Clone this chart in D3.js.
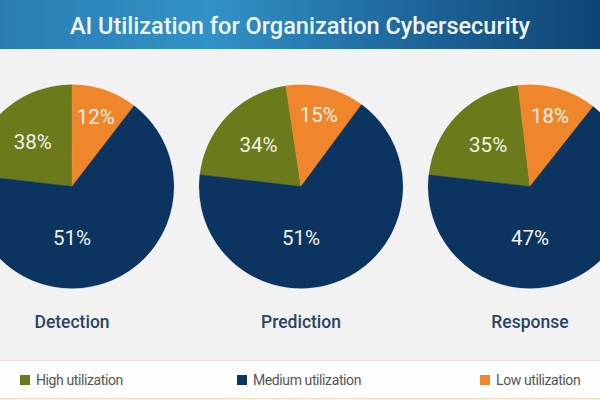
<!DOCTYPE html>
<html><head><meta charset="utf-8">
<script src="https://cdn.jsdelivr.net/npm/d3@7"></script>
<style>html,body{margin:0;padding:0;background:#f2f2f2;}svg{display:block;}</style>
</head><body>
<svg id="chart" width="600" height="400"></svg>
<script>
const title = "AI Utilization for Organization Cybersecurity";
const categories = ["Detection", "Prediction", "Response"];
const seriesNames = ["High utilization", "Medium utilization", "Low utilization"];
// printed percentage labels
const highLabels = [38, 34, 35];
const mediumLabels = [51, 51, 47];
const lowLabels = [12, 15, 18];
// slice shares as drawn in the picture
const highShares = [23.2, 20.8, 21.3];
const mediumShares = [66.4, 66.7, 66.2];
const lowShares = [10.4, 12.5, 12.5];

const colors = {"High utilization": "#6b7b1c", "Medium utilization": "#0c3461", "Low utilization": "#f0862b"};

const W = 600, H = 400;
const svg = d3.select("#chart");

// background
svg.append("rect").attr("width", W).attr("height", H).attr("fill", "#f2f2f2");

// header gradient
const defs = svg.append("defs");
const grad = defs.append("linearGradient").attr("id", "hdr").attr("x1", "0%").attr("x2", "100%");
grad.append("stop").attr("offset", "0%").attr("stop-color", "#2a7db2");
grad.append("stop").attr("offset", "35%").attr("stop-color", "#3192c7");
grad.append("stop").attr("offset", "70%").attr("stop-color", "#1d6498");
grad.append("stop").attr("offset", "100%").attr("stop-color", "#0f4476");
svg.append("rect").attr("x", 0).attr("y", 0).attr("width", W).attr("height", 49).attr("fill", "url(#hdr)");
svg.append("text").attr("x", W / 2).attr("y", 34).attr("text-anchor", "middle")
  .attr("font-family", "Roboto, 'Noto Sans', sans-serif").attr("font-size", 23.5).attr("font-weight", 500)
  .attr("fill", "#f2f5f8").text(title);

// pies
const x = d3.scalePoint().domain(categories).range([72, 530]);
const cy = 186.5, R = 102;
const startA = -83.4 * Math.PI / 180;
const pie = d3.pie().sort(null).value(d => d.share).startAngle(startA).endAngle(startA + 2 * Math.PI);
const arc = d3.arc().innerRadius(0).outerRadius(R);
const labelRadius = {"High utilization": 0.58, "Low utilization": 0.72};

categories.forEach((cat, i) => {
  const slices = [
    {name: "High utilization", share: highShares[i], label: highLabels[i]},
    {name: "Low utilization", share: lowShares[i], label: lowLabels[i]},
    {name: "Medium utilization", share: mediumShares[i], label: mediumLabels[i]}
  ];
  const g = svg.append("g").attr("transform", `translate(${x(cat)},${cy})`);
  const arcs = pie(slices);
  g.selectAll("path").data(arcs).join("path")
    .attr("d", arc).attr("fill", d => colors[d.data.name])
    .attr("stroke", d => colors[d.data.name]).attr("stroke-width", 0.5);
  g.append("circle").attr("r", R + 0.5).attr("fill", "none").attr("stroke", "#ffffff").attr("stroke-opacity", 0.6).attr("stroke-width", 1);
  g.selectAll("text.pct").data(arcs).join("text").attr("class", "pct")
    .attr("transform", d => {
      let a, r;
      if (d.data.name === "Medium utilization") { a = Math.PI; r = 0.5 * R; }
      else { a = (d.startAngle + d.endAngle) / 2; r = labelRadius[d.data.name] * R; }
      return `translate(${r * Math.sin(a)},${-r * Math.cos(a)})`;
    })
    .attr("text-anchor", "middle").attr("dominant-baseline", "central")
    .attr("font-family", "Roboto, 'Noto Sans', sans-serif").attr("font-size", 20.5)
    .attr("fill", "#f1f1e6").text(d => d.data.label + "%");
  svg.append("text").attr("x", x(cat)).attr("y", 328).attr("text-anchor", "middle")
    .attr("font-family", "Roboto, 'Noto Sans', sans-serif").attr("font-size", 17.5).attr("font-weight", 500)
    .attr("fill", "#2a4463").text(cat);
});

// legend band
svg.append("rect").attr("x", 0).attr("y", 360).attr("width", W).attr("height", 38).attr("fill", "#fdfdfd");
svg.append("line").attr("x1", 0).attr("x2", W).attr("y1", 360.5).attr("y2", 360.5).attr("stroke", "#f3dcc6");
svg.append("line").attr("x1", 0).attr("x2", W).attr("y1", 398.5).attr("y2", 398.5).attr("stroke", "#f3dcc6");
const legendX = d3.scaleOrdinal().domain(seriesNames).range([20, 237, 480]);
const lg = svg.selectAll("g.leg").data(seriesNames).join("g").attr("class", "leg")
  .attr("transform", d => `translate(${legendX(d)},375)`);
lg.append("rect").attr("width", 10).attr("height", 10).attr("fill", d => colors[d]);
lg.append("text").attr("x", 16).attr("y", 10)
  .attr("font-family", "Roboto, 'Noto Sans', sans-serif").attr("font-size", 14).attr("letter-spacing", -0.4)
  .attr("fill", "#555555").text(d => d);
</script>
</body></html>
